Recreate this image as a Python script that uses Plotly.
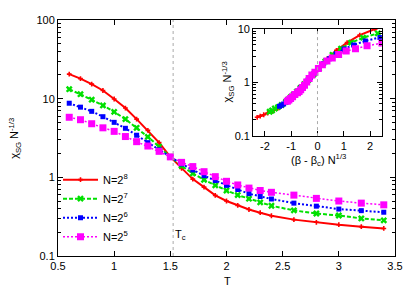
import plotly.graph_objects as go

# ---- data ----
T = [0.6, 0.7, 0.8, 0.9, 1.0, 1.1, 1.2, 1.3, 1.4, 1.5, 1.6, 1.7, 1.8, 1.9,
     2.0, 2.1, 2.2, 2.3, 2.4, 2.6, 2.8, 3.0, 3.2, 3.4]
chi_N256 = [20.5, 18.0, 15.3, 12.7, 9.9, 7.6, 5.5, 3.95, 2.76, 1.82, 1.30, 0.95,
            0.75, 0.59, 0.50, 0.44, 0.39, 0.355, 0.325, 0.29, 0.268, 0.25, 0.236, 0.224]
chi_N128 = [13.2, 11.4, 9.7, 8.2, 6.8, 5.5, 4.26, 3.27, 2.46, 1.82, 1.40, 1.12,
            0.93, 0.79, 0.68, 0.595, 0.535, 0.48, 0.435, 0.38, 0.347, 0.327, 0.30, 0.284]
chi_N64 = [8.75, 7.8, 6.9, 5.9, 5.0, 4.2, 3.43, 2.76, 2.24, 1.82, 1.48, 1.24,
           1.05, 0.91, 0.79, 0.70, 0.62, 0.57, 0.53, 0.47, 0.43, 0.395, 0.377, 0.36]
chi_N32 = [5.8, 5.4, 4.8, 4.26, 3.84, 3.3, 2.84, 2.5, 2.14, 1.82, 1.55, 1.37,
           1.18, 1.02, 0.89, 0.80, 0.73, 0.68, 0.645, 0.594, 0.54, 0.50, 0.47, 0.447]
sizes_N = [256, 128, 64, 32]
labels = ["N=2<sup>8</sup>", "N=2<sup>7</sup>", "N=2<sup>6</sup>", "N=2<sup>5</sup>"]
Tc = 1.525

series = [chi_N256, chi_N128, chi_N64, chi_N32]
styles = [
    dict(color="#ff0000", dash="solid", width=2, symbol="cross", msize=4),
    dict(color="#00e000", dash="4px,2px", width=2, symbol="x", msize=6),
    dict(color="#0000ff", dash="2px,2px", width=2, symbol="square", msize=5),
    dict(color="#ff00ff", dash="2px,2px", width=1.5, symbol="square", msize=7),
]

FONT = "Liberation Sans, Arial, sans-serif"
fig = go.Figure()

for vals, N, lab, st in zip(series, sizes_N, labels, styles):
    fig.add_trace(go.Scatter(
        x=T, y=vals, mode="lines+markers", name=lab,
        line=dict(color=st["color"], dash=st["dash"], width=st["width"]),
        marker=dict(color=st["color"], symbol=st["symbol"], size=st["msize"]),
        xaxis="x", yaxis="y"))

for vals, N, lab, st in zip(series, sizes_N, labels, styles):
    xs = [(1.0 / t - 1.0 / Tc) * N ** (1.0 / 3.0) for t in T]
    fig.add_trace(go.Scatter(
        x=xs, y=vals, mode="lines+markers", showlegend=False,
        line=dict(color=st["color"], dash=st["dash"], width=st["width"]),
        marker=dict(color=st["color"], symbol=st["symbol"], size=st["msize"]),
        xaxis="x2", yaxis="y2", cliponaxis=True))

axis_common = dict(showline=True, linecolor="black", linewidth=1, mirror="ticks",
                   ticks="inside", ticklen=5, tickcolor="black", showgrid=False,
                   zeroline=False, tickfont=dict(family=FONT, size=11, color="black"))

def ann(text, x, y, xref="paper", **kw):
    d = dict(text=text, xref=xref, yref="paper", x=x, y=y, showarrow=False,
             xanchor="center", yanchor="middle", font=dict(family=FONT, size=11))
    d.update(kw)
    return d

# the page body adds an 8px offset, so the figure is 8px smaller and margins compensate
fig.update_layout(
    width=407, height=283,
    margin=dict(l=50, r=20, t=6, b=35),
    paper_bgcolor="white", plot_bgcolor="white",
    font=dict(family=FONT, size=11, color="black"),
    xaxis=dict(domain=[0, 1], range=[0.5, 3.5], tickvals=[0.5, 1, 1.5, 2, 2.5, 3, 3.5],
               ticktext=["0.5", "1", "1.5", "2", "2.5", "3", "3.5"], **axis_common),
    yaxis=dict(domain=[0, 1], type="log", range=[-1, 2], tickvals=[0.1, 1, 10, 100],
               ticktext=["0.1", "1", "10", "100"],
               minor=dict(ticks="inside", ticklen=3, tickcolor="black",
                          tickvals=[a * b for b in (0.1, 1, 10) for a in range(2, 10)]),
               **axis_common),
    xaxis2=dict(domain=[0.579, 0.961], range=[-2.45, 2.45], anchor="y2",
                tickvals=[-2, -1, 0, 1, 2], ticktext=["-2", "-1", "0", "1", "2"],
                **axis_common),
    yaxis2=dict(domain=[0.508, 0.963], type="log", range=[-1, 1], anchor="x2",
                tickvals=[0.1, 1, 10], ticktext=["0.1", "1", "10"],
                minor=dict(ticks="inside", ticklen=3, tickcolor="black",
                           tickvals=[a * b for b in (0.1, 1) for a in range(2, 10)]),
                **axis_common),
    legend=dict(x=0.0, y=0.385, xanchor="left", yanchor="top",
                bgcolor="rgba(0,0,0,0)", font=dict(family=FONT, size=11),
                itemwidth=35, tracegroupgap=0),
    shapes=[
        dict(type="line", xref="x", yref="y domain", x0=Tc, x1=Tc, y0=0, y1=1,
             line=dict(color="#aaaaaa", width=1, dash="dot")),
        dict(type="line", xref="x2", yref="y2 domain", x0=0, x1=0, y0=0, y1=1,
             line=dict(color="#aaaaaa", width=1, dash="dot")),
    ],
    annotations=[
        ann("χ<sub>SG</sub> N<sup>-1/3</sup>", -0.128, 0.5, textangle=-90),
        ann("T", 0.504, -0.107),
        ann("T<sub>c</sub>", Tc, 0.087, xref="x", xanchor="left"),
        ann("χ<sub>SG</sub> N<sup>-1/3</sup>", (228 - 58) / 337, (256 - 78) / 242,
            textangle=-90),
        ann("(β - β<sub>c</sub>) N<sup>1/3</sup>", (318 - 58) / 337, (256 - 158) / 242),
    ],
)

fig.write_html("out.html")
